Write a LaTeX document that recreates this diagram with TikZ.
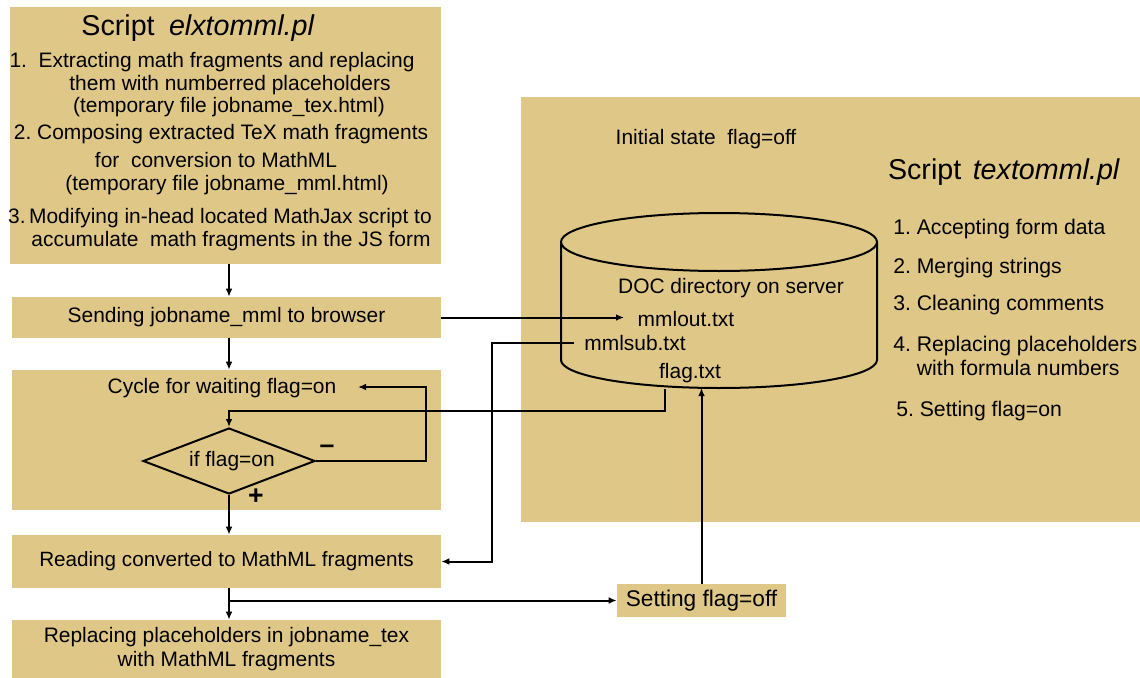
\documentclass[tikz,border=0pt]{standalone}
\usepackage{fontspec}
\setmainfont{Liberation Sans}
\usetikzlibrary{arrows.meta}
\usetikzlibrary{shapes.geometric}
\usetikzlibrary{fit}
\definecolor{boxtan}{RGB}{223,199,135}
\tikzset{
  box/.style={fill=boxtan, inner sep=0pt},
  txt/.style={font=\fontsize{15.7}{18}\selectfont, inner sep=0pt},
  bigtxt/.style={font=\fontsize{15.9}{18.5}\selectfont, inner sep=0pt},
  ttl/.style={font=\fontsize{21.5}{24}\selectfont, inner sep=0pt},
  sign/.style={font=\fontsize{20}{20}\selectfont\bfseries, inner sep=0pt},
  line/.style={line width=1.5pt},
  arr/.style={line width=1.5pt, -{Latex[length=6pt,width=5pt]}},
}
\begin{document}
\begin{tikzpicture}[x=0.75pt, y=-0.75pt]
        \useasboundingbox (0,0) rectangle (1140,678);
        % boxes
        \node[box, fit={(10,7) (441,264)}] (elx) {};
        \node[box, fit={(521,97) (1140,522)}] (tex) {};
        \node[box, minimum width=321.75pt, minimum height=30.75pt, txt] (sending) at (226.5,317.5) {Sending jobname\_mml to browser};
        \node[box, fit={(12,370) (441,510)}] (cyclebox) {};
        \node[box, minimum width=321.75pt, minimum height=39.75pt, txt, font=\fontsize{15.5}{18}\selectfont] (reading) at (226.5,561.5) {Reading converted to MathML fragments};
        \node[box, minimum width=321.75pt, minimum height=43.5pt, txt, align=center, font=\fontsize{15.7}{18}\selectfont] (replacing) at (226.5,649) {Replacing placeholders in jobname\_tex\\with MathML fragments};
        \node[box, minimum width=126.75pt, minimum height=24.75pt, txt, font=\fontsize{17}{19}\selectfont] (setoff) at (701.5,600.5) {Setting flag=off};

        % left script
        \node[ttl] (elxttl) at (198,28) {Script\hspace{0.5em}\textit{elxtomml.pl}};
        \foreach \x/\y/\t in {212/62/{1.\ \ Extracting math fragments and replacing},
            230/85/{them with numberred placeholders},
            229/107/{(temporary file jobname\_tex.html)},
            221/134/{2.\ Composing extracted TeX math fragments},
            216/160/{for\ \ conversion to MathML},
            227/185/{(temporary file jobname\_mml.html)},
            220/218/{3.\,Modifying in-head located MathJax script to},
            231/241/{accumulate\ \ math fragments in the JS form}}
          \node[txt] (elx-\y) at (\x,\y) {\t};

        % cycle
        \node[txt] (waittxt) at (222,388) {Cycle for waiting flag=on};
        \coordinate (waitin) at (358,387);
        \node[draw, line, diamond, aspect=2.6, minimum width=129pt, minimum height=49.5pt, inner sep=0pt, txt] (ifflag) at (229,461) {\ if flag=on};
        \node[sign] (minus) at (327,449) {--};
        \node[sign] (plus) at (256,497) {+};

        % right script and database
        \node[txt] (init) at (706,139) {Initial state\ \ flag=off};
        \node[ttl] (texttl) at (1004,172) {Script\hspace{0.4em}\textit{textomml.pl}};
        \draw[line] (719,242) ellipse [x radius=158, y radius=29];
        \draw[line] (561,242) -- (561,360) arc[start angle=180, end angle=0, x radius=158, y radius=28] -- (877,242);
        \coordinate (flagout) at (665,389);
        \coordinate (dbbot) at (719,388);
        \node[txt] (docdir) at (731,288) {DOC directory on server};
        \node[txt, inner sep=10pt] (mmlout) at (686,319) {mmlout.txt};
        \node[txt, inner sep=7.5pt] (mmlsub) at (635,343) {mmlsub.txt};
        \node[txt] (flagtxt) at (690,373) {flag.txt};
        \node[bigtxt, anchor=west] (s1) at (893,229) {1.\ Accepting form data};
        \node[bigtxt, anchor=west] (s2) at (893,268) {2.\ Merging strings};
        \node[bigtxt, anchor=west] (s3) at (893,305) {3.\ Cleaning comments};
        \node[bigtxt, anchor=west, align=left] (s4) at (893,356) {4.\ Replacing placeholders\\\hphantom{4.\ }with formula numbers};
        \node[bigtxt, anchor=west] (s5) at (896,411) {5.\ Setting flag=on};

        % connectors
        \draw[arr] (elx.south -| ifflag) -- (sending.north -| ifflag);
        \draw[arr] (sending.south -| ifflag) -- (cyclebox.north -| ifflag);
        \draw[arr] (sending.east) -- (sending.east -| mmlout.west);
        \draw[arr] (ifflag.east) -- ++(110,0) |- (waitin);
        \draw[arr] (flagout) -- ++(0,22) -| (ifflag.north);
        \draw[arr] (ifflag.south) -- (reading.north -| ifflag);
        \draw[arr] (mmlsub.west) -- ++(-82,0) |- (reading.east);
        \draw[arr] (reading.south -| ifflag) -- (replacing.north -| ifflag);
        \draw[arr] (reading.south -| ifflag) |- (setoff.west);
        \draw[arr] (setoff.north) -- (setoff.north |- dbbot);
\end{tikzpicture}
\end{document}
